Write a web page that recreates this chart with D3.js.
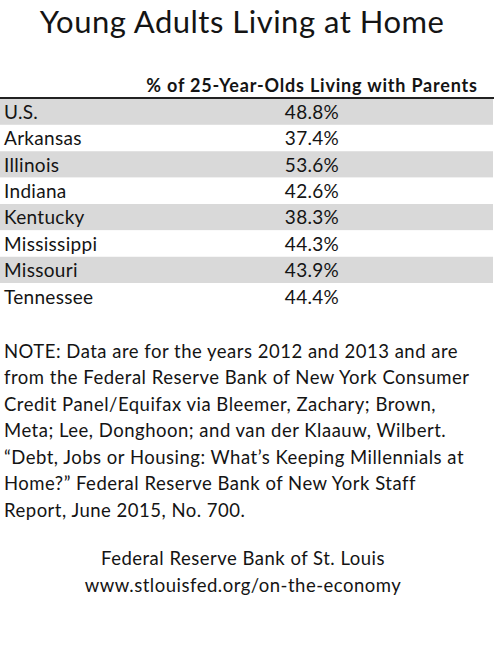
<!DOCTYPE html>
<head>
  <meta charset="utf-8">
  <style>
    body { margin:0; background:#fff; }
    text { font-family: Lato, "Open Sans", sans-serif; fill:#141414; }
    #title { font-size:31px; letter-spacing:0.5px; }
    .head { font-size:18px; font-weight:bold; letter-spacing:0.8px; }
    .cell { font-size:19px; letter-spacing:0.3px; }
    .note { font-size:18.5px; letter-spacing:0.5px; }
    .credit { font-size:18.5px; letter-spacing:0.5px; }
  </style>
</head>
<body>
  <script src="https://d3js.org/d3.v7.min.js"></script>
  <script>

    // DATA
    const chartTitle = "Young Adults Living at Home";
    const columnTitle = "% of 25-Year-Olds Living with Parents";
    const places = ["U.S.", "Arkansas", "Illinois", "Indiana", "Kentucky", "Mississippi", "Missouri", "Tennessee"];
    const shares = [48.8, 37.4, 53.6, 42.6, 38.3, 44.3, 43.9, 44.4];
    const noteLines = [
      "NOTE: Data are for the years 2012 and 2013 and are",
      "from the Federal Reserve Bank of New York Consumer",
      "Credit Panel/Equifax via Bleemer, Zachary; Brown,",
      "Meta; Lee, Donghoon; and van der Klaauw, Wilbert.",
      "\u201cDebt, Jobs or Housing: What\u2019s Keeping Millennials at",
      "Home?\u201d Federal Reserve Bank of New York Staff",
      "Report, June 2015, No. 700."
    ];
    const creditLines = ["Federal Reserve Bank of St. Louis", "www.stlouisfed.org/on-the-economy"];

    // DIMENSIONS
    let width = 500,
        height = 648;

    let tableLeft = 0,
        tableRight = 493,
        valueCenter = 312;

    var svg = d3.select("body").append("svg")
      .attr("width", width)
      .attr("height", height);

    // TITLE
    svg.append("text")
      .attr("id", "title")
      .attr("x", 242)
      .attr("y", 33)
      .attr("text-anchor", "middle")
      .text(chartTitle);

    // COLUMN HEADER
    svg.append("text")
      .attr("class", "head")
      .attr("x", valueCenter)
      .attr("y", 92)
      .attr("text-anchor", "middle")
      .text(columnTitle);

    // ROWS
    var y = d3.scaleBand()
      .domain(places)
      .range([98.5, 309.5]);

    var fmt = d => d3.format(".1f")(d) + "%";

    let rows = svg.selectAll("g.row")
      .data(places)
      .enter().append("g")
        .classed("row", true)
        .attr("transform", d => "translate(0," + y(d) + ")");

    rows.append("rect")
      .attr("x", tableLeft)
      .attr("width", tableRight - tableLeft)
      .attr("height", y.bandwidth())
      .style("fill", (d, i) => i % 2 ? "#ffffff" : "#d9d9d9");

    rows.append("text")
      .attr("class", "cell")
      .attr("x", 4)
      .attr("y", y.bandwidth() - 6)
      .text(d => d);

    rows.append("text")
      .attr("class", "cell")
      .attr("x", valueCenter)
      .attr("y", y.bandwidth() - 6)
      .attr("text-anchor", "middle")
      .text((d, i) => fmt(shares[i]));

    // header rule
    svg.append("line")
      .attr("x1", tableLeft)
      .attr("x2", tableRight + 1)
      .attr("y1", 98)
      .attr("y2", 98)
      .style("stroke", "#222")
      .style("stroke-width", 2);

    // NOTE
    var noteY = d3.scaleBand()
      .domain(d3.range(noteLines.length))
      .range([331.5, 516.5]);

    svg.selectAll("text.note")
      .data(noteLines)
      .enter().append("text")
        .attr("class", "note")
        .attr("x", 4)
        .attr("y", (d, i) => noteY(i) + noteY.bandwidth())
        .text(d => d);

    // CREDIT
    svg.selectAll("text.credit")
      .data(creditLines)
      .enter().append("text")
        .attr("class", "credit")
        .attr("x", 243)
        .attr("y", (d, i) => 565 + i * 26.5)
        .attr("text-anchor", "middle")
        .text(d => d);

  </script>
</body>
